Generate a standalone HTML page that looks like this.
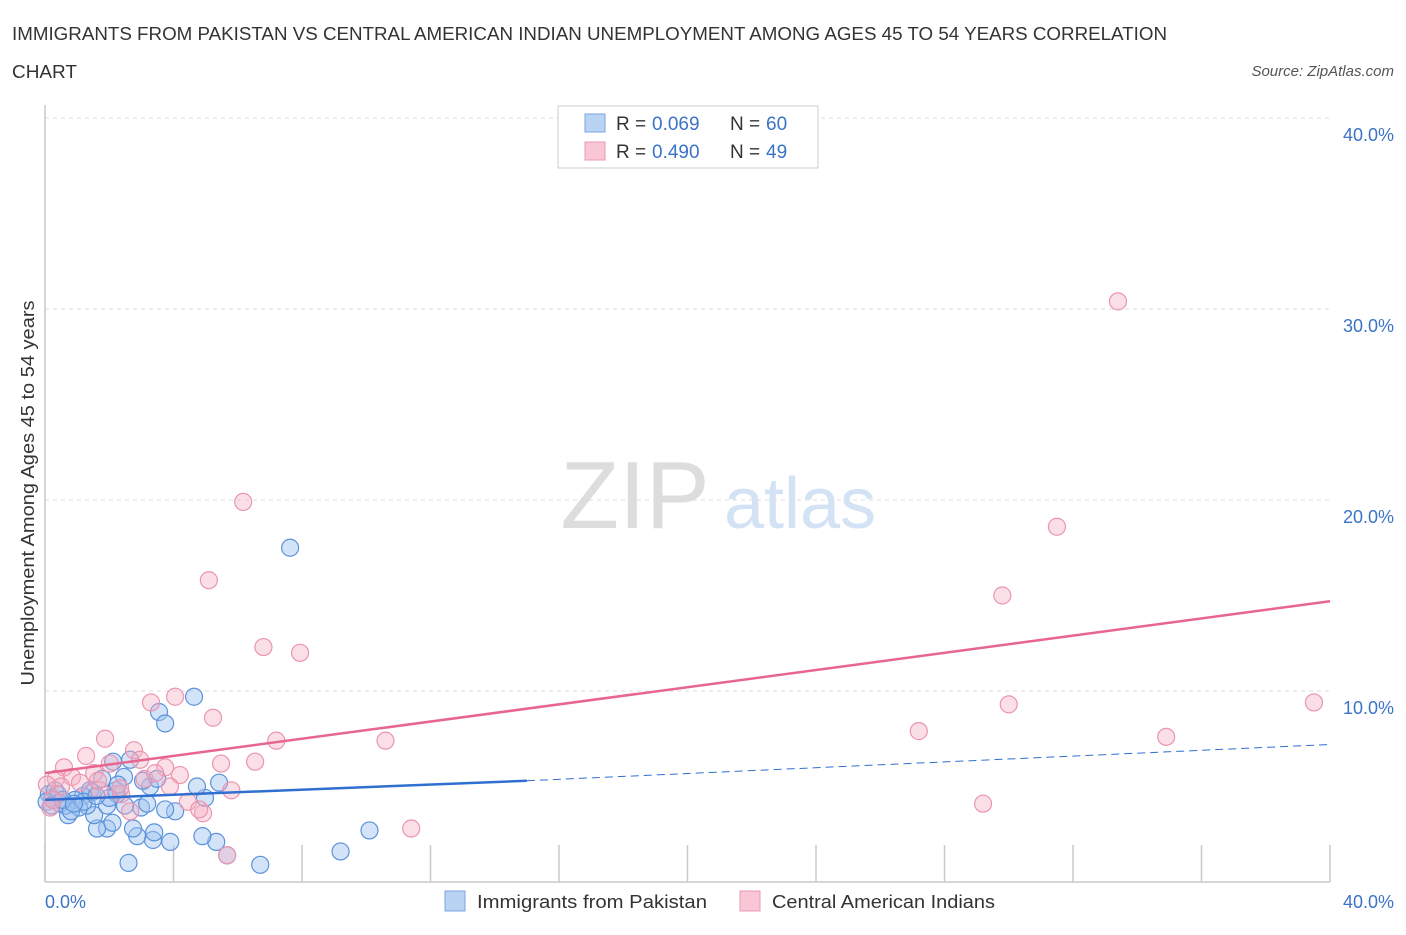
<!DOCTYPE html>
<html><head><meta charset="utf-8"><style>
body{margin:0;background:#fff;font-family:"Liberation Sans",sans-serif;}
svg text{font-family:"Liberation Sans",sans-serif;}
</style></head><body>
<svg id="chart" width="1406" height="930" xmlns="http://www.w3.org/2000/svg">
<text x="12" y="40" font-size="18" fill="#333" textLength="1155" lengthAdjust="spacingAndGlyphs">IMMIGRANTS FROM PAKISTAN VS CENTRAL AMERICAN INDIAN UNEMPLOYMENT AMONG AGES 45 TO 54 YEARS CORRELATION</text>
<text x="12" y="78" font-size="18" fill="#333" textLength="65" lengthAdjust="spacingAndGlyphs">CHART</text>
<text x="1394" y="76" font-size="15" fill="#555" font-style="italic" text-anchor="end">Source: ZipAtlas.com</text>
<text x="635" y="528" font-size="96" fill="#ddd" font-family="Liberation Serif" text-anchor="middle">ZIP</text>
<text x="800" y="528" font-size="72" fill="#d3e3f5" text-anchor="middle">atlas</text>
<g id="grid"></g>
<g id="axes"></g>
<g id="points"></g>
<g id="lines"></g>
<text transform="translate(34,493) rotate(-90)" font-size="18" fill="#333" text-anchor="middle" textLength="385" lengthAdjust="spacingAndGlyphs">Unemployment Among Ages 45 to 54 years</text>
<text x="45" y="908" font-size="18" fill="#3b73c8">0.0%</text>
<text x="1394" y="908" font-size="18" fill="#3b73c8" text-anchor="end">40.0%</text>
<g>
<rect x="558" y="106" width="260" height="62" fill="#fff" stroke="#ccc"/>
<rect x="585" y="114" width="20" height="18" fill="#b9d3f5" stroke="#7aa6e0"/>
<text x="616" y="130" font-size="19" fill="#333">R =</text>
<text x="652" y="130" font-size="19" fill="#3b73c8">0.069</text>
<text x="730" y="130" font-size="19" fill="#333">N =</text>
<text x="766" y="130" font-size="19" fill="#3b73c8">60</text>
<rect x="585" y="142" width="20" height="18" fill="#f8c6d4" stroke="#ee9ab4"/>
<text x="616" y="158" font-size="19" fill="#333">R =</text>
<text x="652" y="158" font-size="19" fill="#3b73c8">0.490</text>
<text x="730" y="158" font-size="19" fill="#333">N =</text>
<text x="766" y="158" font-size="19" fill="#3b73c8">49</text>
</g>
<g>
<rect x="445" y="891" width="20" height="20" fill="#b9d3f5" stroke="#7aa6e0"/>
<text x="477" y="908" font-size="18" fill="#333" textLength="230" lengthAdjust="spacingAndGlyphs">Immigrants from Pakistan</text>
<rect x="740" y="891" width="20" height="20" fill="#f8c6d4" stroke="#ee9ab4"/>
<text x="772" y="908" font-size="18" fill="#333" textLength="223" lengthAdjust="spacingAndGlyphs">Central American Indians</text>
</g>
</svg>
<script>
const yTicks=[10,20,30,40];
const yTickLabels=["10.0%","20.0%","30.0%","40.0%"];
const xTicks=[0,4,8,12,16,20,24,28,32,36,40];
const blueX=[7.63,4.64,3.55,3.74,10.1,9.2,6.7,2.6,5.67,5.33,4.9,3.9,3.36,3.4,2.87,2.74,1.93,1.62,2.1,1.53,0.72,4.05,3.74,2.99,2.49,3.18,4.98,4.73,5.42,3.27,2.24,1.46,1.18,0.93,0.47,0.22,0.12,0.31,1.78,2.46,2.65,2.12,3.49,3.05,2.21,1.31,1.06,0.65,0.4,0.05,0.81,2.27,1.4,1.93,0.2,0.55,1.2,2.0,0.9,1.6];
const blueY=[17.5,9.7,8.9,8.3,2.7,1.6,0.9,1.0,1.4,2.1,2.4,2.1,2.2,2.6,2.4,2.8,2.8,2.8,3.1,3.5,3.5,3.7,3.8,3.9,4.0,4.1,4.4,5.0,5.2,5.0,4.6,4.7,4.5,4.3,4.1,4.4,4.6,4.8,5.4,5.5,6.4,6.3,5.4,5.3,4.8,4.0,3.9,4.0,4.6,4.2,3.7,5.1,4.8,4.0,4.0,4.3,4.2,4.4,4.1,4.5];
const pinkX=[33.4,6.17,31.5,5.1,29.8,6.8,7.94,39.5,30.0,3.3,4.05,5.23,27.2,34.9,7.2,10.6,1.87,2.77,1.28,5.48,6.54,0.59,2.02,3.74,4.2,3.1,1.53,0.84,0.34,5.8,4.45,4.92,2.65,29.2,11.4,5.67,2.37,1.7,0.16,1.09,3.43,4.8,0.5,0.06,2.96,1.65,2.34,0.25,3.89];
const pinkY=[30.4,19.9,18.6,15.8,15.0,12.3,12.0,9.4,9.3,9.4,9.7,8.6,7.9,7.6,7.4,7.4,7.5,6.9,6.6,6.2,6.3,6.0,6.2,6.0,5.6,5.4,5.7,5.5,5.4,4.8,4.2,3.6,3.7,4.1,2.8,1.4,4.6,4.8,3.9,5.2,5.7,3.8,5.0,5.1,6.4,5.3,4.9,4.3,5.0];
const blueTrend=[4.3,5.3,7.2]; // at x=0,15,40
const pinkTrend=[5.7,14.7]; // at x=0,40
const X=v=>45+v*(1285/40), Y=v=>882-v*19.1;
const NS="http://www.w3.org/2000/svg";
function mk(tag,attrs,parent){const e=document.createElementNS(NS,tag);for(const k in attrs)e.setAttribute(k,attrs[k]);document.getElementById(parent).appendChild(e);return e;}
yTicks.forEach((t,i)=>{
  const l=mk('line',{x1:45,x2:1330,y1:Y(t),y2:Y(t),stroke:'#ddd','stroke-dasharray':'4,4'},'grid');
  
  
  const tx=mk('text',{x:1394,y:Y(t)+23,'font-size':18,fill:'#3b73c8','text-anchor':'end'},'grid');
  tx.textContent=yTickLabels[i];
  
  
});
const ax=mk('line',{x1:45,x2:45,y1:105,y2:882,stroke:'#c8c8c8','stroke-width':1.5},'axes');


const bx=mk('line',{x1:45,x2:1330,y1:882,y2:882,stroke:'#c8c8c8','stroke-width':1.5},'axes');


xTicks.forEach(t=>{
  const l=mk('line',{x1:X(t),x2:X(t),y1:845,y2:882,stroke:'#c8c8c8','stroke-width':1.5},'axes');
  
  
});
blueX.forEach((v,i)=>{
  const c=mk('circle',{cx:X(v),cy:Y(blueY[i]),r:8.5,fill:'rgba(160,196,240,0.45)',stroke:'#5b92da','stroke-width':1.2},'points');
  
  
});
pinkX.forEach((v,i)=>{
  const c=mk('circle',{cx:X(v),cy:Y(pinkY[i]),r:8.5,fill:'rgba(245,175,195,0.4)',stroke:'#ec94b0','stroke-width':1.2},'points');
  
  
});
const b1=mk('line',{x1:X(0),y1:Y(blueTrend[0]),x2:X(15),y2:Y(blueTrend[1]),stroke:'#2f6fd0','stroke-width':2.5},'lines');


const b2=mk('line',{x1:X(15),y1:Y(blueTrend[1]),x2:X(40),y2:Y(blueTrend[2]),stroke:'#2f6fd0','stroke-width':1,'stroke-dasharray':'8,5'},'lines');


const p1=mk('line',{x1:X(0),y1:Y(pinkTrend[0]),x2:X(40),y2:Y(pinkTrend[1]),stroke:'#e8658f','stroke-width':2.5},'lines');


</script>
</body></html>
